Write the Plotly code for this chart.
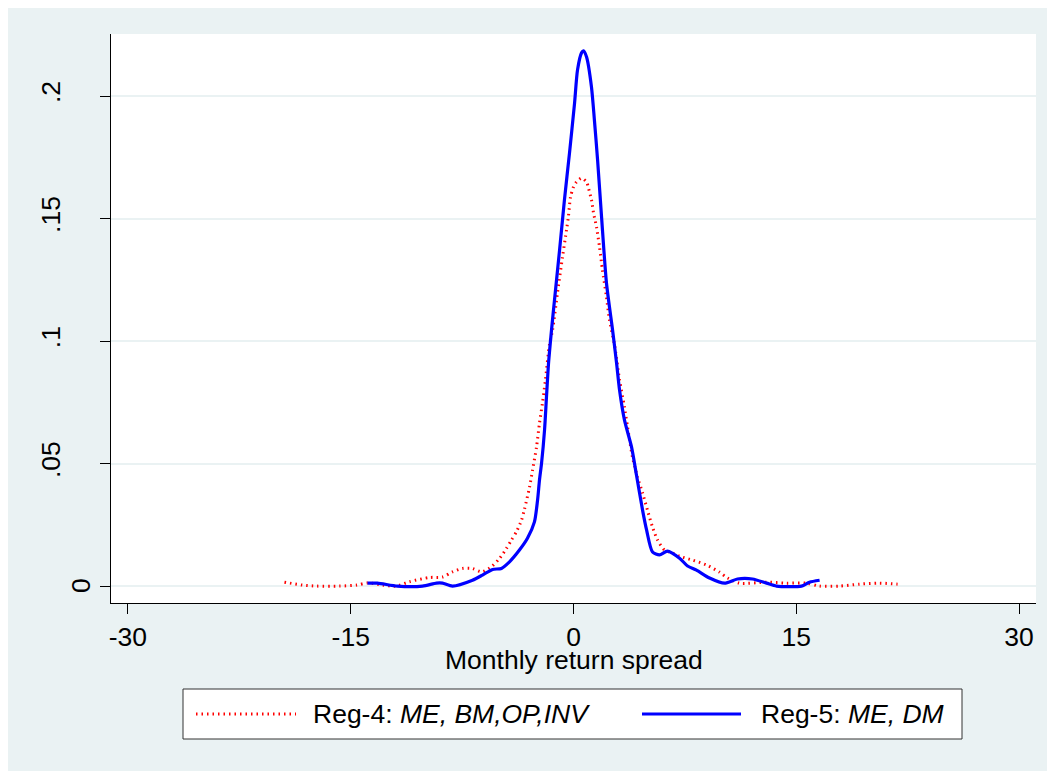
import plotly.graph_objects as go

# Reg-4 (red dotted) kernel density
reg4_x = [-19.46, -18.25, -17.3, -15.76, -14.6, -13.87, -12.86, -11.92, -11.04, -9.7, -8.82, -8.15,
          -7.47, -6.8, -6.2, -5.52, -4.98, -4.51, -4.18, -3.84, -3.5, -3.3, -2.96, -2.76, -2.49,
          -2.29, -2.09, -1.89, -1.62, -1.41, -1.08, -0.74, -0.47, -0.34, -0.2, 0.0, 0.2, 0.54,
          0.88, 1.01, 1.21, 1.35, 1.55, 1.75, 1.95, 2.22, 2.42, 2.76, 3.1, 3.43, 3.64, 3.97,
          4.31, 4.65, 4.98, 5.32, 5.66, 6.13, 6.67, 7.14, 8.01, 8.96, 9.83, 10.37, 11.18, 13.0,
          14.34, 15.69, 16.57, 17.9, 19.26, 20.6, 21.82]
reg4_y = [0.0016, 0.0004, 0.0, 0.0, 0.0004, 0.0013, 0.0004, 0.0, 0.0018, 0.0035, 0.0037, 0.0058,
          0.0072, 0.0072, 0.0058, 0.0079, 0.0113, 0.0154, 0.0188, 0.0222, 0.0269, 0.0314, 0.0404,
          0.0473, 0.0567, 0.0665, 0.0747, 0.0841, 0.0985, 0.1045, 0.1196, 0.1343, 0.1453, 0.151,
          0.1588, 0.1629, 0.1649, 0.1665, 0.1649, 0.1624, 0.1576, 0.1522, 0.1465, 0.1384, 0.129,
          0.118, 0.1086, 0.0985, 0.0841, 0.0731, 0.0649, 0.0527, 0.0445, 0.038, 0.031, 0.0241,
          0.0188, 0.0147, 0.0135, 0.0122, 0.0106, 0.0086, 0.0057, 0.0033, 0.0012, 0.0016, 0.0012,
          0.0012, 0.0, 0.0, 0.0008, 0.0012, 0.0008]

# Reg-5 (blue solid) kernel density
reg5_x = [-13.87, -13.2, -11.85, -10.17, -9.23, -8.82, -8.15, -6.8, -6.13, -5.45, -4.85, -4.31,
          -3.64, -3.1, -2.63, -2.42, -2.29, -2.15, -1.95, -1.82, -1.68, -1.48, -1.28, -0.94,
          -0.61, -0.27, 0.07, 0.27, 0.54, 0.67, 0.88, 1.21, 1.41, 1.62, 1.89, 2.22, 2.63, 2.9,
          3.1, 3.43, 3.91, 4.24, 4.65, 4.92, 5.32, 5.79, 6.33, 7.14, 7.68, 8.28, 9.16, 10.17,
          11.04, 12.05, 13.0, 13.67, 15.35, 15.89, 16.57]
reg5_y = [0.0012, 0.0012, 0.0, 0.0, 0.0012, 0.0012, 0.0, 0.0024, 0.0045, 0.0068, 0.0072, 0.0099,
          0.0147, 0.0195, 0.0262, 0.0351, 0.0433, 0.0502, 0.0637, 0.0771, 0.091, 0.1045, 0.1167,
          0.137, 0.1576, 0.1767, 0.197, 0.2106, 0.2176, 0.2184, 0.2159, 0.2037, 0.19, 0.174,
          0.1506, 0.1237, 0.1045, 0.091, 0.08, 0.0678, 0.0567, 0.0453, 0.031, 0.0229, 0.0139,
          0.0127, 0.0143, 0.0114, 0.0082, 0.0065, 0.0033, 0.0012, 0.0029, 0.0029, 0.0012, 0.0,
          0.0, 0.0016, 0.0024]

x_ticks = [-30, -15, 0, 15, 30]
x_ticktext = ["-30", "-15", "0", "15", "30"]
y_ticks = [0, 0.05, 0.1, 0.15, 0.2]
y_ticktext = ["0", ".05", ".1", ".15", ".2"]

names = ["Reg-4: <i>ME, BM,OP,INV</i>", "Reg-5: <i>ME, DM</i>"]
colors = ["#ff0000", "#0000ff"]

BG = "#EAF2F3"
FONT = "Liberation Sans, Arial, sans-serif"
FS = 26.5

# figure geometry (page body adds an 8px offset)
W, H = 1047, 763
ML, MR, MT, MB = 103, 19, 26, 168
PW, PH = W - ML - MR, H - MT - MB


def px_x(p):
    return (p - ML) / PW


def px_y(p):
    return (H - MB - p) / PH


fig = go.Figure()
fig.add_trace(go.Scatter(x=reg4_x, y=reg4_y, mode="lines", name=names[0],
                         line=dict(color=colors[0], width=3, dash="1.5px,4px",
                                   shape="spline", smoothing=0.7)))
fig.add_trace(go.Scatter(x=reg5_x, y=reg5_y, mode="lines", name=names[1],
                         line=dict(color=colors[1], width=3.2, shape="spline", smoothing=0.7)))

# y tick labels: the "0" label sits closer to the axis in the reference
native_text = [t if t != "0" else "" for t in y_ticktext]

annotations = [
    dict(text="Monthly return spread", xref="paper", yref="paper",
         x=px_x((ML + W - MR) / 2), y=px_y(652), xanchor="center", yanchor="middle",
         showarrow=False, font=dict(size=FS)),
    dict(text=y_ticktext[0], xref="paper", yref="y", x=px_x(73), y=y_ticks[0],
         xanchor="center", yanchor="middle", textangle=-90, showarrow=False,
         font=dict(size=FS)),
    # manual legend texts
    dict(text=names[0], xref="paper", yref="paper", x=px_x(303), y=px_y(706),
         xanchor="left", yanchor="middle", showarrow=False, font=dict(size=FS)),
    dict(text=names[1], xref="paper", yref="paper", x=px_x(751), y=px_y(706),
         xanchor="left", yanchor="middle", showarrow=False, font=dict(size=FS)),
]

shapes = [
    dict(type="rect", xref="paper", yref="paper", x0=px_x(175), x1=px_x(954),
         y0=px_y(731), y1=px_y(681), fillcolor="white",
         line=dict(color="#333333", width=1), layer="above"),
    dict(type="line", xref="paper", yref="paper", x0=px_x(188), x1=px_x(288),
         y0=px_y(706), y1=px_y(706), line=dict(color=colors[0], width=3, dash="1.5px,4px"),
         layer="above"),
    dict(type="line", xref="paper", yref="paper", x0=px_x(634), x1=px_x(733),
         y0=px_y(706), y1=px_y(706), line=dict(color=colors[1], width=3.2), layer="above"),
]

fig.update_layout(
    width=W, height=H,
    margin=dict(l=ML, r=MR, t=MT, b=MB),
    paper_bgcolor=BG, plot_bgcolor="white",
    font=dict(family=FONT, size=FS, color="black"),
    showlegend=False,
    xaxis=dict(range=[-31.14, 31.14], tickvals=x_ticks, ticktext=x_ticktext,
               showgrid=False, zeroline=False, showline=True, linecolor="black", linewidth=1.3,
               ticks="outside", ticklen=10, tickwidth=1.3, tickcolor="black"),
    yaxis=dict(range=[-0.0069, 0.2253], tickvals=y_ticks, ticktext=native_text,
               showgrid=True, gridcolor=BG, gridwidth=2, zeroline=False,
               showline=True, linecolor="black", linewidth=1.3,
               ticks="outside", ticklen=10, tickwidth=1.3, tickcolor="black",
               tickangle=-90, ticklabelstandoff=29),
    annotations=annotations,
    shapes=shapes,
)

fig.write_html("out.html")
